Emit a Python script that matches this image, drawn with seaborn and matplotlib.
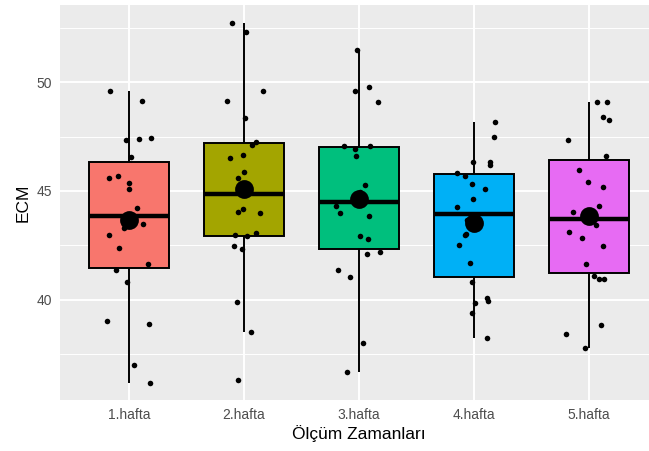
import numpy as np
import pandas as pd
import matplotlib
matplotlib.use("Agg")
import matplotlib.pyplot as plt
import seaborn as sns
from matplotlib.ticker import MultipleLocator

categories = ["1.hafta", "2.hafta", "3.hafta", "4.hafta", "5.hafta"]

hafta1 = [49.61, 49.16, 47.35, 47.40, 47.44, 46.55, 45.37, 45.62, 45.68, 45.09, 44.20,
          43.47, 43.30, 42.97, 42.37, 41.62, 41.37, 40.80, 38.87, 39.00, 36.97, 36.17]
hafta2 = [52.76, 52.34, 49.62, 49.16, 48.36, 47.24, 47.13, 46.64, 46.50, 45.86, 45.58,
          44.18, 44.03, 43.98, 43.05, 42.96, 42.93, 42.48, 42.33, 39.87, 38.50, 36.30]
hafta3 = [51.50, 49.79, 49.59, 49.12, 47.09, 47.09, 46.92, 46.61, 45.28, 44.94, 44.65,
          44.29, 43.99, 43.83, 42.91, 42.80, 42.19, 42.11, 41.35, 41.02, 38.01, 36.66]
hafta4 = [48.19, 47.49, 46.32, 46.34, 46.18, 45.84, 45.69, 45.34, 45.09, 44.63, 44.25,
          43.66, 43.00, 42.97, 42.50, 41.68, 40.81, 40.08, 39.93, 39.82, 39.39, 38.23]
hafta5 = [49.09, 49.09, 48.40, 48.27, 47.36, 46.60, 45.98, 45.43, 45.20, 44.32, 44.01,
          43.43, 43.11, 42.82, 42.47, 41.64, 41.08, 40.94, 40.94, 38.82, 38.41, 37.75]

palette = ["#F8766D", "#A3A500", "#00BF7D", "#00B0F6", "#E76BF3"]

series = [hafta1, hafta2, hafta3, hafta4, hafta5]
df = pd.DataFrame({
    "grp": np.repeat(categories, [len(s) for s in series]),
    "ECM": np.concatenate(series),
})

sns.set_theme(style="darkgrid")
plt.rcParams["font.family"] = ["Liberation Sans", "DejaVu Sans"]

fig = plt.figure(figsize=(6.49, 4.51), dpi=100)
ax = fig.add_axes([60/649, 51/451, 598/649, 395/451])
ax.set_facecolor("#EBEBEB")

sns.boxplot(data=df, x="grp", y="ECM", hue="grp", order=categories,
            palette=palette, saturation=1, width=0.7, showfliers=False,
            legend=False, linecolor="black", linewidth=1.4, showcaps=False,
            medianprops=dict(linewidth=3.2, color="black"),
            ax=ax, zorder=2)

np.random.seed(7)
sns.stripplot(data=df, x="grp", y="ECM", order=categories, color="black",
              jitter=0.2, size=4, ax=ax, zorder=3)

sns.pointplot(data=df, x="grp", y="ECM", order=categories, estimator="mean",
              errorbar=None, linestyle="none", color="black", markers="o",
              markersize=11.5, ax=ax, zorder=4)

ax.set_xlim(-0.6, 4.6)
ax.set_ylim(35.37, 53.57)
ax.yaxis.set_major_locator(MultipleLocator(5))
ax.yaxis.set_minor_locator(MultipleLocator(2.5))
ax.grid(True, which="major", color="white", linewidth=1.4)
ax.grid(True, which="minor", axis="y", color="white", linewidth=0.7)
ax.grid(False, which="minor", axis="x")
ax.set_axisbelow(True)
for sp in ax.spines.values():
    sp.set_visible(False)

ax.tick_params(axis="both", which="major", length=4, width=1.0, color="#333333",
               labelcolor="#4D4D4D", labelsize=10, pad=2)
ax.tick_params(axis="both", which="minor", length=0)
ax.set_xlabel("Ölçüm Zamanları", fontsize=12.5, color="black", labelpad=2)
ax.set_ylabel("ECM", fontsize=12.5, color="black", labelpad=4)

fig.savefig("out.png", dpi=100)
